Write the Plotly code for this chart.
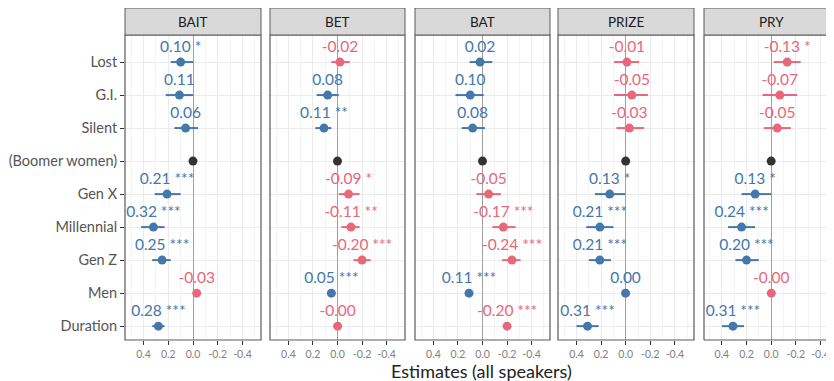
import plotly.graph_objects as go

categories = ["Lost", "G.I.", "Silent", "(Boomer women)", "Gen X", "Millennial", "Gen Z", "Men", "Duration"]
panels = ["BAIT", "BET", "BAT", "PRIZE", "PRY"]

bait_est = [0.10, 0.11, 0.06, 0.0, 0.21, 0.32, 0.25, -0.03, 0.28]
bait_lo = [0.00, 0.00, -0.04, 0.0, 0.10, 0.23, 0.18, -0.04, 0.23]
bait_hi = [0.18, 0.22, 0.15, 0.0, 0.31, 0.42, 0.33, -0.02, 0.33]
bait_sig = ["*", "", "", "", "***", "***", "***", "", "***"]

bet_est = [-0.02, 0.08, 0.11, 0.0, -0.09, -0.11, -0.20, 0.05, -0.001]
bet_lo = [-0.10, -0.01, 0.05, 0.0, -0.18, -0.18, -0.27, 0.04, -0.03]
bet_hi = [0.05, 0.17, 0.18, 0.0, -0.01, -0.03, -0.13, 0.06, 0.03]
bet_sig = ["", "", "**", "", "*", "**", "***", "***", ""]

bat_est = [0.02, 0.10, 0.08, 0.0, -0.05, -0.17, -0.24, 0.11, -0.20]
bat_lo = [-0.08, -0.01, -0.02, 0.0, -0.15, -0.27, -0.31, 0.10, -0.22]
bat_hi = [0.105, 0.22, 0.17, 0.0, 0.05, -0.08, -0.16, 0.12, -0.18]
bat_sig = ["", "", "", "", "", "***", "***", "***", "***"]

prize_est = [-0.01, -0.05, -0.03, 0.0, 0.13, 0.21, 0.21, 0.001, 0.31]
prize_lo = [-0.11, -0.18, -0.15, 0.0, 0.005, 0.10, 0.12, -0.02, 0.22]
prize_hi = [0.095, 0.095, 0.075, 0.0, 0.25, 0.32, 0.30, 0.02, 0.40]
prize_sig = ["", "", "", "", "*", "***", "***", "", "***"]

pry_est = [-0.13, -0.07, -0.05, 0.0, 0.13, 0.24, 0.20, -0.001, 0.31]
pry_lo = [-0.24, -0.21, -0.16, 0.0, 0.0, 0.13, 0.10, -0.02, 0.22]
pry_hi = [-0.02, 0.07, 0.06, 0.0, 0.24, 0.35, 0.29, 0.02, 0.40]
pry_sig = ["*", "", "", "", "*", "***", "***", "", "***"]

tick_vals = [0.4, 0.2, 0.0, -0.2, -0.4]
tick_text = ["0.4", "0.2", "0.0", "-0.2", "-0.4"]
minor_vals = [0.5, 0.3, 0.1, -0.1, -0.3, -0.5]

data = [
    (bait_est, bait_lo, bait_hi, bait_sig),
    (bet_est, bet_lo, bet_hi, bet_sig),
    (bat_est, bat_lo, bat_hi, bat_sig),
    (prize_est, prize_lo, prize_hi, prize_sig),
    (pry_est, pry_lo, pry_hi, pry_sig),
]

OFF = 8  # page body margin
W, H = 834 - OFF, 381 - OFF
BLUE = "#4477AA"
RED = "#E8677A"
BLACK = "#333333"
FONT = "Lato"


def fx(p):
    return (p - OFF) / W


def fy(p):
    return 1 - (p - OFF) / H


panel_px = [(125, 261), (270, 405), (415, 550), (558, 694), (704, 838)]
x_ranges = [[0.55, -0.55], [0.55, -0.55], [0.55, -0.55], [0.55, -0.555], [0.545, -0.51]]
panel_top, panel_bot = 35, 340
strip_top = 8
ydom = [fy(panel_bot), fy(panel_top)]

fig = go.Figure()
shapes = []
annotations = []

for i, (name, (est, lo, hi, sig)) in enumerate(zip(panels, data)):
    k = "" if i == 0 else str(i + 1)
    xa, ya = "x" + k, "y" + k
    groups = {"blue": [], "red": [], "black": []}
    for j, c in enumerate(categories):
        if c == "(Boomer women)":
            groups["black"].append(j)
        elif est[j] >= 0:
            groups["blue"].append(j)
        else:
            groups["red"].append(j)
    cmap = {"blue": BLUE, "red": RED, "black": BLACK}
    for g, idx in groups.items():
        if not idx:
            continue
        xs = [est[j] for j in idx]
        ys = [categories[j] for j in idx]
        plus = [hi[j] - est[j] for j in idx]
        minus = [est[j] - lo[j] for j in idx]
        texts = [] if g == "black" else [
            (f"{est[j]:.2f}" + (" " + sig[j] if sig[j] else "")) for j in idx
        ]
        fig.add_trace(go.Scatter(
            x=xs, y=ys, xaxis=xa, yaxis=ya,
            mode="markers+text" if texts else "markers",
            text=texts if texts else None,
            textposition="top center",
            textfont=dict(family=FONT, size=15.5, color=cmap[g]),
            marker=dict(size=9, color=cmap[g]),
            error_x=dict(type="data", array=plus, arrayminus=minus, symmetric=False,
                         color=cmap[g], thickness=2, width=0),
            showlegend=False, hoverinfo="skip", cliponaxis=False,
        ))
    x0, x1 = panel_px[i]
    dom = [fx(x0), min(fx(x1), 1.0)]
    fig.layout["xaxis" + k] = dict(
        domain=dom, anchor=ya, range=x_ranges[i], automargin=False,
        tickvals=tick_vals, ticktext=tick_text,
        ticks="outside", ticklen=4, tickcolor="#333333", tickwidth=1,
        tickfont=dict(family=FONT, size=10.5, color="#808080"),
        showgrid=True, gridcolor="#ebebeb", gridwidth=1,
        minor=dict(tickvals=minor_vals, showgrid=True, gridcolor="#f4f4f4", gridwidth=1),
        zeroline=True, zerolinecolor="#a0a0a0", zerolinewidth=1.3,
        showline=False, fixedrange=True,
    )
    fig.layout["yaxis" + k] = dict(
        domain=ydom, anchor=xa, type="category", automargin=False,
        categoryorder="array", categoryarray=categories,
        range=[8.42, -0.82],
        showticklabels=(i == 0),
        ticks="outside" if i == 0 else "", ticklen=4, tickcolor="#333333",
        tickfont=dict(family=FONT, size=14.5, color="#555555"),
        showgrid=True, gridcolor="#ebebeb", gridwidth=1,
        zeroline=False, showline=False, fixedrange=True,
    )
    clipped = fx(x1) > 1.0
    right = 1.02 if clipped else fx(x1)
    if not clipped:
        shapes.append(dict(type="rect", xref="paper", yref="paper",
                           x0=fx(x0), x1=right, y0=ydom[0], y1=ydom[1],
                           line=dict(color="#5a5a5a", width=1.2), fillcolor="rgba(0,0,0,0)",
                           layer="above"))
    else:
        for (ax0, ay0, ax1, ay1) in [(fx(x0), ydom[1], right, ydom[1]),
                                     (fx(x0), ydom[0], right, ydom[0]),
                                     (fx(x0), ydom[0], fx(x0), ydom[1])]:
            shapes.append(dict(type="line", xref="paper", yref="paper",
                               x0=ax0, y0=ay0, x1=ax1, y1=ay1,
                               line=dict(color="#5a5a5a", width=1.2), layer="above"))
    shapes.append(dict(type="rect", xref="paper", yref="paper",
                       x0=fx(x0), x1=right,
                       y0=fy(panel_top), y1=fy(strip_top),
                       line=dict(color="#5a5a5a", width=1), fillcolor="#d9d9d9",
                       layer="above"))
    annotations.append(dict(xref="paper", yref="paper",
                            x=fx((x0 + x1) / 2), y=fy((strip_top + panel_top) / 2),
                            text=name, showarrow=False, xanchor="center", yanchor="middle",
                            font=dict(family=FONT, size=13.5, color="#1a1a1a")))

annotations.append(dict(xref="paper", yref="paper", x=fx(481), y=fy(371),
                        text="Estimates (all speakers)", showarrow=False,
                        xanchor="center", yanchor="middle",
                        font=dict(family=FONT, size=18, color="#222222")))

fig.update_layout(
    width=W, height=H,
    margin=dict(l=0, r=0, t=0, b=0, autoexpand=False),
    paper_bgcolor="white", plot_bgcolor="white",
    shapes=shapes, annotations=annotations,
    font=dict(family=FONT),
)

fig.write_html("out.html")
